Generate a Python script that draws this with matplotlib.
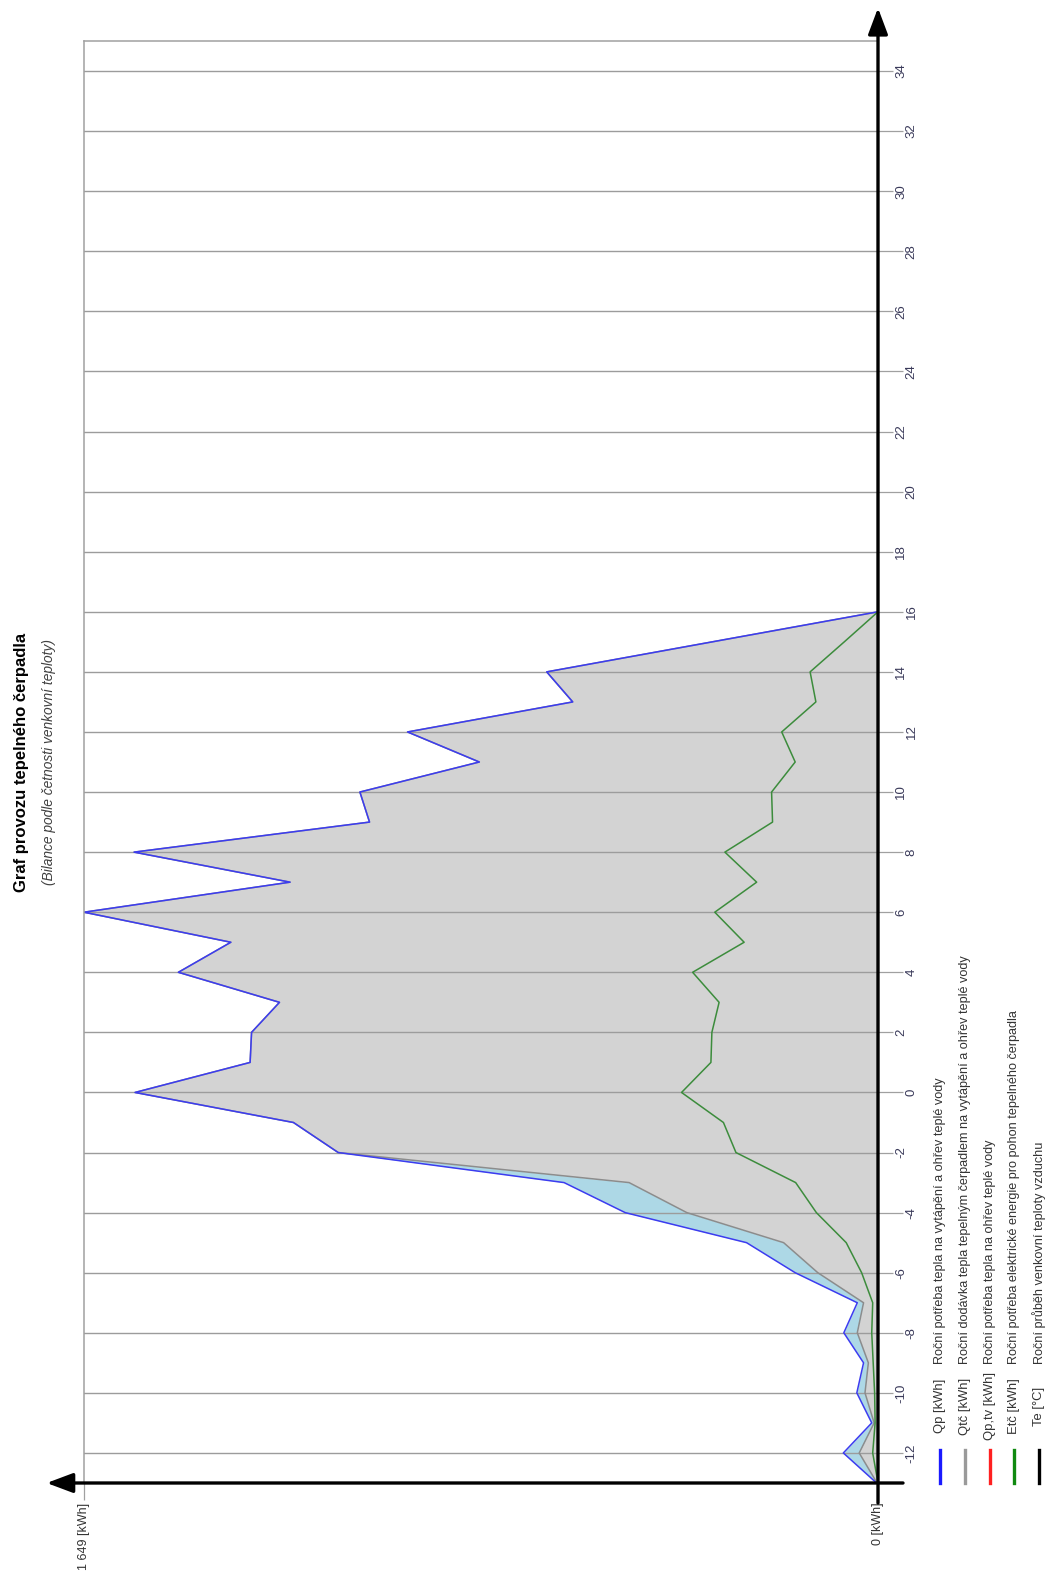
import matplotlib.pyplot as plt
from matplotlib.lines import Line2D

plt.rcParams['font.family'] = ['Liberation Sans', 'DejaVu Sans']

# teplotní třídy [°C]
teploty = list(range(-13, 17))

# roční potřeba tepla na vytápění a TV [kWh]
qp = [3, 72, 13, 44, 30, 71, 43, 172, 273, 525, 652, 1121, 1214, 1543, 1304,
      1301, 1243, 1453, 1344, 1649, 1221, 1545, 1056, 1076, 828, 977, 634, 688, 344, 0]

# roční dodávka tepla tepelným čerpadlem [kWh]
qtc = [2, 39, 8, 27, 20, 43, 30, 125, 196, 397, 517, 1121, 1214, 1543, 1304,
       1301, 1243, 1453, 1344, 1649, 1221, 1545, 1056, 1076, 828, 977, 634, 688, 344, 0]

# roční potřeba elektrické energie pro pohon TČ [kWh]
etc = [0, 11, 6, 7, 10, 13, 11, 34, 66, 128, 171, 295, 321, 408, 347,
       345, 330, 385, 278, 339, 252, 318, 219, 221, 172, 200, 129, 141, 70, 0]

kwh_max = 1649
t_min, t_max = -13, 35
popisky_dlouhe = list(range(-12, 33, 4))
popisky_kratke = list(range(-10, 35, 4))

legenda_zkratky = ['Qp [kWh]', 'Qtč [kWh]', 'Qp,tv [kWh]', 'Etč [kWh]', 'Te [°C]']
legenda_popisy = [
    'Roční potřeba tepla na vytápění a ohřev teplé vody',
    'Roční dodávka tepla tepelným čerpadlem na vytápění a ohřev teplé vody',
    'Roční potřeba tepla na ohřev teplé vody',
    'Roční potřeba elektrické energie pro pohon tepelného čerpadla',
    'Roční průběh venkovní teploty vzduchu',
]
legenda_barvy = ['#1a1aff', '#9a9a9a', '#ff2020', '#108a10', '#000000']

W, H = 1057, 1581


def fx(px):
    return px / W


def fy(py):
    return 1 - py / H


fig = plt.figure(figsize=(W / 100, H / 100), dpi=100)
fig.patch.set_facecolor('white')
ax = fig.add_axes([fx(84), fy(1483), (878 - 84) / W, (1483 - 41) / H])
ax.set_xlim(kwh_max, 0)
ax.set_ylim(t_min, t_max)

# plochy
ax.fill_betweenx(teploty, 0, qtc, color='#d3d3d3', lw=0, zorder=1)
ax.fill_betweenx(teploty, qtc, qp, where=[a > b for a, b in zip(qp, qtc)],
                 interpolate=True, color='#add8e6', lw=0, zorder=1)

# mřížka
for t in popisky_dlouhe + popisky_kratke:
    ax.axhline(t, color='#9c9c9c', lw=1.0, zorder=1.5)

# křivky
ax.plot(qtc, teploty, color='#8c8c8c', lw=1.1, zorder=2)
ax.plot(qp, teploty, color='#3c3cf0', lw=1.1, zorder=2.1)
ax.plot(etc, teploty, color='#3c8c3c', lw=1.1, zorder=2.2)

for s in ['left', 'top']:
    ax.spines[s].set_color('#a0a0a0')
    ax.spines[s].set_linewidth(1.1)
for s in ['right', 'bottom']:
    ax.spines[s].set_visible(False)

# osa teplot vpravo, popisky střídavě odsazené
ax.yaxis.tick_right()
ax.set_yticks(popisky_dlouhe, labels=[str(t) for t in popisky_dlouhe])
ax.set_yticks(popisky_kratke, labels=[str(t) for t in popisky_kratke], minor=True)
ax.tick_params(axis='y', which='major', length=18, width=0.9, color='#a0a0a0',
               labelsize=9.5, labelrotation=90, pad=2, labelcolor='#3a3a5a')
ax.tick_params(axis='y', which='minor', length=10.5, width=0.9, color='#a0a0a0',
               labelsize=9.5, labelrotation=90, pad=2, labelcolor='#3a3a5a')
for lab in ax.get_yticklabels(which='both'):
    lab.set_verticalalignment('center')

ax.set_xticks([kwh_max, 0], labels=['1 649 [kWh]', '0 [kWh]'])
ax.tick_params(axis='x', length=12, width=0.9, color='#a0a0a0', labelsize=9,
               labelrotation=90, pad=2, labelcolor='#333333')

# osy se šipkami
sipka = dict(arrowstyle='-|>,head_length=0.8,head_width=0.3', lw=2.4, color='black',
             shrinkA=0, shrinkB=0, mutation_scale=20)
ax.annotate('', xy=(-0.047, 0), xytext=(1.0315, 0), xycoords='axes fraction',
            arrowprops=sipka, annotation_clip=False, zorder=5)
ax.annotate('', xy=(1, 1.0229), xytext=(1, -0.0139), xycoords='axes fraction',
            arrowprops=sipka, annotation_clip=False, zorder=5)

# nadpis
fig.text(fx(22), fy(762), 'Graf provozu tepelného čerpadla', rotation=90,
         fontweight='bold', fontsize=12, ha='center', va='center')
fig.text(fx(49), fy(762), '(Bilance podle četnosti venkovní teploty)', rotation=90,
         style='italic', fontsize=9.9, color='#404040', ha='center', va='center')

# legenda
for x, barva, zkratka, popis in zip([940, 965, 990, 1014, 1039], legenda_barvy,
                                    legenda_zkratky, legenda_popisy):
    fig.add_artist(Line2D([fx(x), fx(x)], [fy(1450), fy(1483)], color=barva, lw=2.4))
    fig.text(fx(x), fy(1406), zkratka, rotation=90, ha='center', va='center',
             fontsize=9.4, color='#333333')
    fig.text(fx(x), fy(1364), popis, rotation=90, ha='center', va='bottom',
             fontsize=9.1, color='#333333')

fig.savefig('out.png', dpi=100)
